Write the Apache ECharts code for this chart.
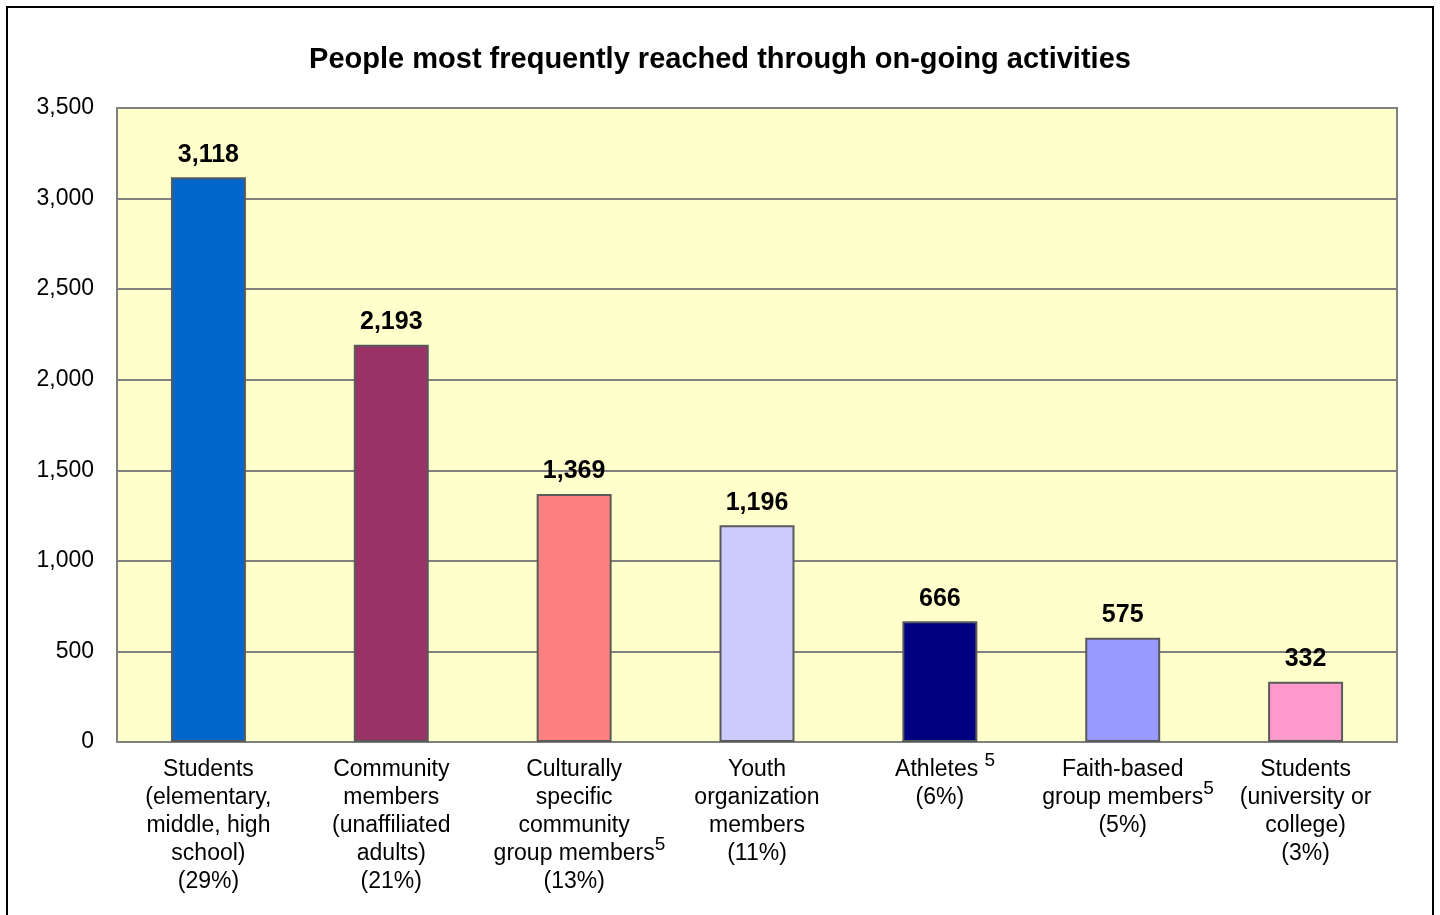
<!DOCTYPE html>
<html>
<head>
<meta charset="utf-8">
<script src="https://cdn.jsdelivr.net/npm/echarts@6/dist/echarts.min.js"></script>
<style>
html,body{margin:0;padding:0;background:#fff;}
#chart{width:1440px;height:915px;}
</style>
</head>
<body>
<div id="chart"></div>
<script>
const titleText = "People most frequently reached through on-going activities";
const categories = [
  "Students\n(elementary,\nmiddle, high\nschool)\n(29%)",
  "Community\nmembers\n(unaffiliated\nadults)\n(21%)",
  "Culturally\nspecific\ncommunity\ngroup members^5\n(13%)",
  "Youth\norganization\nmembers\n(11%)",
  "Athletes ^5\n(6%)",
  "Faith-based\ngroup members^5\n(5%)",
  "Students\n(university or\ncollege)\n(3%)"
];
const values = [3118, 2193, 1369, 1196, 666, 575, 332];
const barColors = ["#0066CC", "#993366", "#FF8080", "#CCCCFF", "#000080", "#9999FF", "#FF99CC"];
const yTicks = { min: 0, max: 3500, interval: 500 };

const FONT = "'Liberation Sans', Arial, sans-serif";
const fmt = v => v.toLocaleString('en-US');

function labelFormatter(val) {
  return val.split('\n').map(line => {
    if (line.indexOf('^5') >= 0) {
      return '{ghost|5}' + line.replace('^5', '{sup|5}');
    }
    return line;
  }).join('\n');
}

const chart = echarts.init(document.getElementById('chart'));
chart.setOption({
  backgroundColor: '#ffffff',
  animation: false,
  title: {
    text: titleText,
    left: 'center',
    top: 40,
    textStyle: { fontFamily: FONT, fontSize: 29, fontWeight: 'bold', color: '#000' }
  },
  graphic: [{
    type: 'rect',
    shape: { x: 7, y: 7, width: 1426, height: 930 },
    style: { fill: 'none', stroke: '#000', lineWidth: 2 },
    silent: true
  }],
  grid: {
    left: 117, top: 108, right: 43, bottom: 173,
    show: true,
    backgroundColor: '#FFFFCC',
    borderColor: '#808080',
    borderWidth: 2,
    containLabel: false
  },
  xAxis: {
    type: 'category',
    data: categories,
    axisLine: { show: false },
    axisTick: { show: false },
    axisLabel: {
      interval: 0,
      margin: 14,
      fontFamily: FONT,
      fontSize: 23,
      color: '#000',
      lineHeight: 28,
      formatter: labelFormatter,
      rich: {
        sup: { fontFamily: FONT, fontSize: 19, color: '#000', lineHeight: 10, padding: [0, 0, 18, 0] },
        ghost: { fontFamily: FONT, fontSize: 19, color: 'rgba(0,0,0,0)', lineHeight: 10, padding: [0, 0, 18, 0] }
      }
    }
  },
  yAxis: {
    type: 'value',
    min: yTicks.min,
    max: yTicks.max,
    interval: yTicks.interval,
    axisLine: { show: false },
    axisTick: { show: false },
    axisLabel: {
      margin: 23,
      fontFamily: FONT,
      fontSize: 23,
      color: '#000',
      formatter: v => fmt(v)
    },
    splitLine: { show: true, lineStyle: { color: '#808080', width: 2 } }
  },
  series: [{
    type: 'bar',
    data: values.map((v, i) => ({ value: v, itemStyle: { color: barColors[i] } })),
    barWidth: '41%',
    itemStyle: { borderColor: '#5a5a5a', borderWidth: 2 },
    label: {
      show: true,
      position: 'top',
      distance: 10,
      fontFamily: FONT,
      fontSize: 25,
      fontWeight: 'bold',
      color: '#000',
      formatter: p => fmt(p.value)
    }
  }]
});
</script>
</body>
</html>
